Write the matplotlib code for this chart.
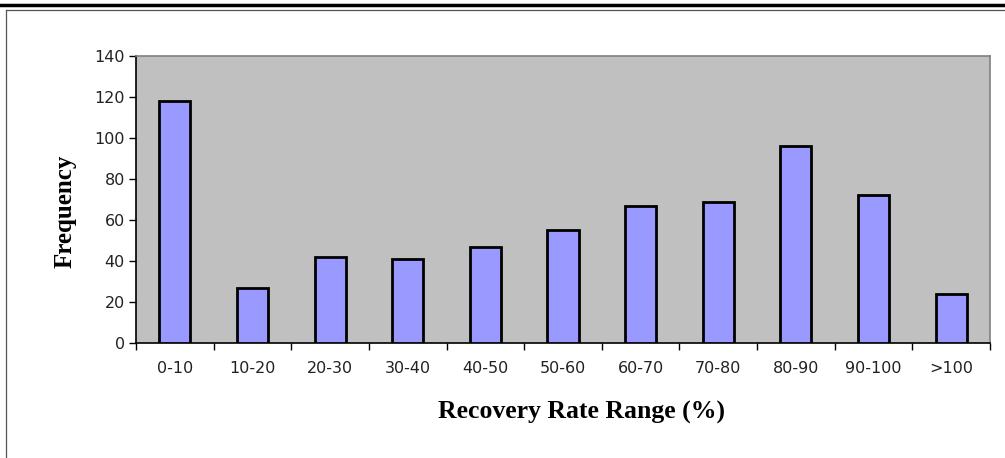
import numpy as np
import matplotlib
matplotlib.use("Agg")
from matplotlib import pyplot as plt
from matplotlib.lines import Line2D
from matplotlib.ticker import FixedLocator, NullFormatter

# Data
categories = ["0-10", "10-20", "20-30", "30-40", "40-50", "50-60",
              "60-70", "70-80", "80-90", "90-100", ">100"]
frequency = [118, 27, 42, 41, 47, 55, 67, 69, 96, 72, 24]
y_ticks = [0, 20, 40, 60, 80, 100, 120, 140]

plt.rcParams["font.family"] = ["DejaVu Sans"]

fig = plt.figure(figsize=(10.05, 4.58), dpi=100)
ax = fig.add_axes([136 / 1005, 1 - 343 / 458, (990 - 136) / 1005, (343 - 56) / 458])

x = np.arange(len(categories))
ax.bar(x, frequency, width=0.4, color="#9999FF", edgecolor="black", linewidth=2.0, zorder=3)

ax.set_facecolor("#C0C0C0")
ax.set_xlim(-0.5, len(categories) - 0.5)
ax.set_ylim(0, 140)
ax.set_yticks(y_ticks)

ax.set_xticks(x)
ax.set_xticklabels(categories)
ax.xaxis.set_minor_locator(FixedLocator(np.arange(-0.5, len(categories), 1.0)))
ax.xaxis.set_minor_formatter(NullFormatter())
ax.tick_params(axis="x", which="major", length=0, pad=13, labelsize=11.5, colors="#222222")
ax.tick_params(axis="x", which="minor", length=5, width=1, direction="out", color="black")
ax.tick_params(axis="y", length=5, width=1, direction="out", labelsize=11.5, pad=3,
               labelcolor="#222222")

ax.spines["left"].set_color("black")
ax.spines["bottom"].set_color("black")
ax.spines["top"].set_color("#808080")
ax.spines["right"].set_color("#808080")
for s in ax.spines.values():
    s.set_linewidth(1.2)

fig.text(65 / 1005, 1 - 211 / 458, "Frequency", rotation=90, ha="center", va="center",
         fontfamily="Liberation Serif", fontweight="bold", fontsize=18)
fig.text(582 / 1005, 1 - 412 / 458, "Recovery Rate Range (%)", ha="center", va="center",
         fontfamily="Liberation Serif", fontweight="bold", fontsize=18.5)

# page frame lines around the chart
fig.add_artist(Line2D([0, 1], [1 - 4.5 / 458] * 2, color="black", linewidth=2.5))
fig.add_artist(Line2D([6 / 1005, 1], [1 - 9.5 / 458] * 2, color="#555555", linewidth=0.9))
fig.add_artist(Line2D([6 / 1005] * 2, [0, 1 - 9.5 / 458], color="#555555", linewidth=0.9))

plt.savefig("out.png", dpi=100)
plt.close(fig)
